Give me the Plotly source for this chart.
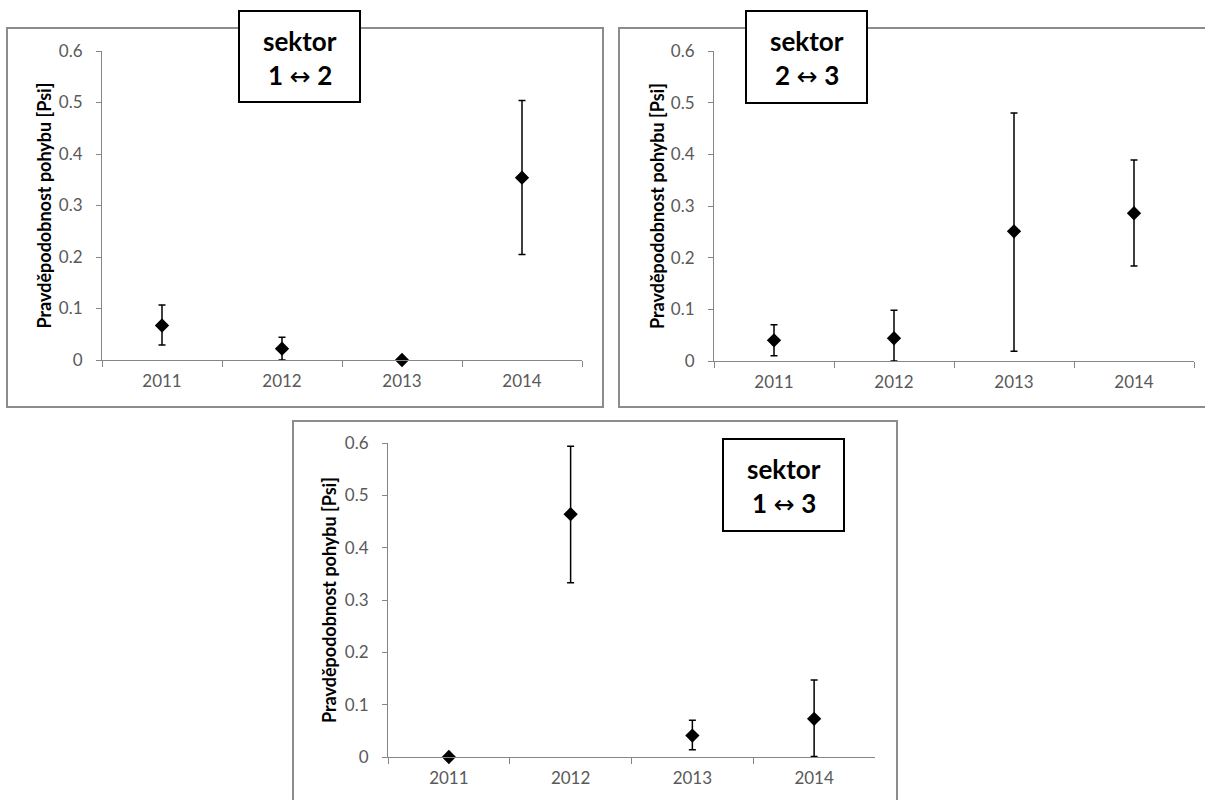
import plotly.graph_objects as go

# Survey years (categories on every x axis)
years = ["2011", "2012", "2013", "2014"]

# Movement probability estimates with lower / upper confidence limits
psi_12 = [0.067, 0.022, 0.0, 0.354]
lo_12 = [0.029, 0.0, 0.0, 0.205]
hi_12 = [0.107, 0.044, 0.0, 0.504]

psi_23 = [0.040, 0.044, 0.251, 0.286]
lo_23 = [0.010, 0.0, 0.019, 0.184]
hi_23 = [0.070, 0.098, 0.480, 0.389]

psi_13 = [0.0, 0.464, 0.041, 0.073]
lo_13 = [0.0, 0.333, 0.014, 0.001]
hi_13 = [0.0, 0.594, 0.070, 0.147]

# sector pairs shown in the label boxes
sector_pairs = [("1", "2"), ("2", "3"), ("1", "3")]
y_title = "Pravděpodobnost pohybu [Psi]"
y_ticks = [0, 0.1, 0.2, 0.3, 0.4, 0.5, 0.6]

W, H = 1205, 800
FONT = "Lato"
AXIS_GREY = "#868686"
FRAME_GREY = "#8c8c8c"
TICK_TEXT = "#595959"


def px(x):
    return x / W


def py(y):
    return 1 - y / H


# pixel layout of each panel: plot area, outer frame, label box
panels = [
    dict(val=psi_12, lo=lo_12, hi=hi_12,
         plot=(102, 582, 51, 360), frame=(7, 603, 28, 407),
         box=(239, 360, 11, 102), ytitle_x=44),
    dict(val=psi_23, lo=lo_23, hi=hi_23,
         plot=(714, 1194, 51, 361), frame=(619, 1208, 28, 407),
         box=(746, 867, 11, 103), ytitle_x=657),
    dict(val=psi_13, lo=lo_13, hi=hi_13,
         plot=(388, 875, 443, 757), frame=(293, 897, 421, 805),
         box=(723, 844, 439, 531), ytitle_x=329),
]

fig = go.Figure()
layout = dict(
    width=W, height=H,
    autosize=False,
    margin=dict(l=0, r=0, t=0, b=0, pad=0),
    paper_bgcolor="white", plot_bgcolor="white",
    showlegend=False,
    font=dict(family=FONT, color=TICK_TEXT, size=17),
)
shapes, annotations = [], []

for i, p in enumerate(panels, start=1):
    sfx = "" if i == 1 else str(i)
    x0, x1, y0, y1 = p["plot"]
    plus = [h - v for h, v in zip(p["hi"], p["val"])]
    minus = [v - l for v, l in zip(p["val"], p["lo"])]

    fig.add_trace(go.Scatter(
        x=years, y=p["val"], mode="markers",
        xaxis="x" + sfx, yaxis="y" + sfx,
        marker=dict(symbol="diamond", size=11, color="black"),
        error_y=dict(type="data", symmetric=False, array=plus,
                     arrayminus=minus, color="black",
                     thickness=1.5, width=3.5),
        cliponaxis=False,
    ))

    layout["xaxis" + sfx] = dict(
        domain=[px(x0), px(x1)], anchor="y" + sfx,
        type="category", categoryorder="array", categoryarray=years,
        range=[-0.5, 3.5], tickson="boundaries",
        ticks="outside", ticklen=6, tickcolor=AXIS_GREY, tickwidth=1,
        showline=True, linecolor=AXIS_GREY, linewidth=1,
        showgrid=False, zeroline=False, automargin=False,
        tickfont=dict(family=FONT, size=17, color=TICK_TEXT),
        ticklabelstandoff=6, fixedrange=True,
    )
    layout["yaxis" + sfx] = dict(
        domain=[py(y1), py(y0)], anchor="x" + sfx,
        range=[0, 0.6], tickvals=y_ticks,
        ticks="outside", ticklen=5, tickcolor=AXIS_GREY, tickwidth=1,
        showline=True, linecolor=AXIS_GREY, linewidth=1,
        showgrid=False, zeroline=False, automargin=False,
        tickfont=dict(family=FONT, size=17, color=TICK_TEXT),
        ticklabelstandoff=10, fixedrange=True,
    )

    # outer chart frame
    fx0, fx1, fy0, fy1 = p["frame"]
    shapes.append(dict(type="rect", xref="paper", yref="paper",
                       x0=px(fx0), x1=px(fx1), y0=py(fy1), y1=py(fy0),
                       line=dict(color=FRAME_GREY, width=2), layer="below"))

    # sector label box
    bx0, bx1, by0, by1 = p["box"]
    shapes.append(dict(type="rect", xref="paper", yref="paper",
                       x0=px(bx0), x1=px(bx1), y0=py(by1), y1=py(by0),
                       line=dict(color="black", width=2),
                       fillcolor="white", layer="above"))
    cx = (bx0 + bx1) / 2
    a, b = sector_pairs[i - 1]
    annotations.append(dict(xref="paper", yref="paper", x=px(cx),
                            y=py(by0 + 30), text="<b>sektor</b>",
                            showarrow=False,
                            xanchor="center", yanchor="middle",
                            font=dict(family=FONT, size=26, color="black")))
    annotations.append(dict(xref="paper", yref="paper", x=px(cx),
                            y=py(by0 + 64),
                            text=(f"<b>{a}</b> "
                                  "<span style='font-size:25px;"
                                  "font-family:DejaVu Sans'>\u2194</span>"
                                  f" <b>{b}</b>"),
                            showarrow=False, xanchor="center",
                            yanchor="middle",
                            font=dict(family=FONT, size=26, color="black")))

    # rotated y-axis title
    annotations.append(dict(xref="paper", yref="paper",
                            x=px(p["ytitle_x"]), y=py((y0 + y1) / 2),
                            text=f"<b>{y_title}</b>", textangle=-90,
                            showarrow=False,
                            xanchor="center", yanchor="middle",
                            font=dict(family=FONT, size=18, color="black")))

layout["shapes"] = shapes
layout["annotations"] = annotations
fig.update_layout(**layout)

fig.write_html("out.html")
